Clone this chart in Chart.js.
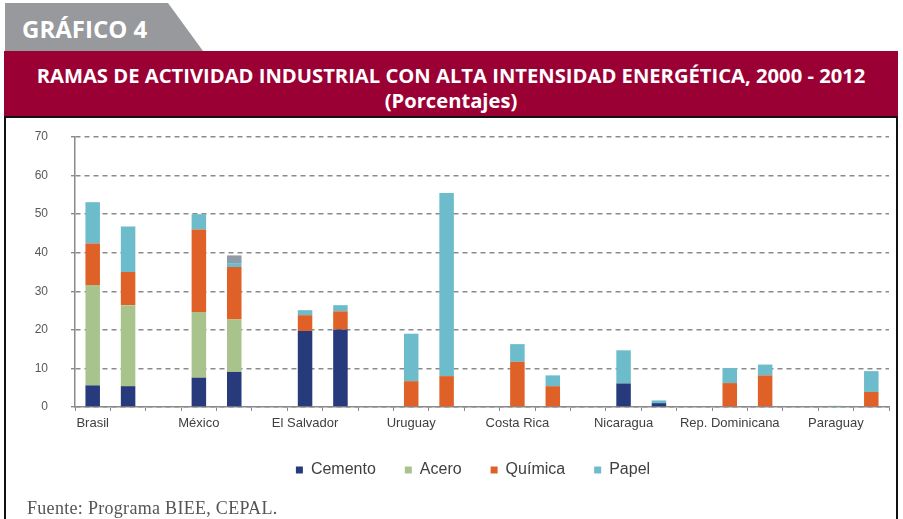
<!DOCTYPE html>
<html>
<head>
<meta charset="utf-8">
<script src="https://cdn.jsdelivr.net/npm/chart.js@4/dist/chart.umd.min.js"></script>
<style>
  html, body { margin: 0; padding: 0; background: #fff; }
  body { width: 903px; height: 519px; position: relative; overflow: hidden; }
  #tab {
    position: absolute; left: 5px; top: 3px; width: 200px; height: 48px;
    background: #97999c;
    clip-path: polygon(0 0, 163px 0, 198px 100%, 0 100%);
  }
  #tab span {
    position: absolute; left: 17px; top: 9px;
    font: 700 24px "Open Sans", sans-serif; color: #fff;
  }
  #band {
    position: absolute; left: 4px; top: 51px; width: 894px; height: 66px;
    background: #9b0034; color: #fff; text-align: center;
    font: 700 20.2px "Open Sans", sans-serif; line-height: 25px;
  }
  #band div:first-child { padding-top: 12px; }
  #frame {
    position: absolute; left: 4px; top: 116px; width: 890px; height: 410px;
    border: 2px solid #111;
  }
  #wrap { position: absolute; left: 6px; top: 119px; width: 889px; height: 400px; }
  #src {
    position: absolute; left: 27px; top: 498px;
    font: 18px "Liberation Serif", "Times New Roman", serif; color: #555;
    letter-spacing: 0.3px;
  }
</style>
</head>
<body>
<div id="tab"><span>GRÁFICO 4</span></div>
<div id="band">
  <div>RAMAS DE ACTIVIDAD INDUSTRIAL CON ALTA INTENSIDAD ENERGÉTICA, 2000 - 2012</div>
  <div>(Porcentajes)</div>
</div>
<div id="frame"></div>
<div id="wrap"><canvas id="chart"></canvas></div>
<div id="src">Fuente: Programa BIEE, CEPAL.</div>
<script>
// two bars per country: 2000 and 2012
const countries = ['Brasil', 'México', 'El Salvador', 'Uruguay', 'Costa Rica', 'Nicaragua', 'Rep. Dominicana', 'Paraguay'];
const cemento = [5.6, 5.4, 7.6, 9.1, 19.7, 20.1, 0, 0, 0, 0, 6.1, 1.0, 0, 0, 0, 0];
const acero   = [26.0, 21.0, 17.0, 13.6, 0, 0, 0, 0, 0, 0, 0, 0, 0, 0, 0, 0];
const quimica = [10.8, 8.6, 21.4, 13.6, 4.1, 4.7, 6.7, 8.0, 11.7, 5.4, 0, 0, 6.2, 8.2, 0, 3.9];
const papel   = [10.7, 11.8, 4.0, 1.0, 1.3, 1.6, 12.3, 47.5, 4.6, 2.8, 8.6, 0.7, 3.9, 2.8, 0.3, 5.4];
const otros   = [0, 0, 0, 2.0, 0, 0, 0, 0, 0, 0, 0, 0, 0, 0, 0, 0];
const yMax = 70;
const yStep = 10;

// slots: bar 2000, bar 2012, empty gap (no gap after the last country)
const labels = [];
countries.forEach((c, i) => {
    labels.push(c, '');
    if (i < countries.length - 1) labels.push('');
});

function toSlots(values) {
    const out = [];
    countries.forEach((c, i) => {
        out.push(values[2 * i] || null, values[2 * i + 1] || null);
        if (i < countries.length - 1) out.push(null);
    });
    return out;
}

function makeSet(label, values, color) {
    return {
        label: label,
        data: toSlots(values),
        backgroundColor: color,
        borderWidth: 0,
        categoryPercentage: 1,
        barPercentage: 0.41
    };
}

const fontFamily = '"Liberation Sans", Arial, sans-serif';

// legend sits a little left of the plot centre in the original
const legendShift = {
    id: 'legendShift',
    afterLayout(chart) {
        chart.legend.left -= 9;
        chart.legend.right -= 9;
    }
};

new Chart(document.getElementById('chart'), {
    type: 'bar',
    data: {
        labels: labels,
        datasets: [
            makeSet('Cemento', cemento, '#263a7c'),
            makeSet('Acero', acero, '#a8c48c'),
            makeSet('Química', quimica, '#df6128'),
            makeSet('Papel', papel, '#6cbccc'),
            makeSet('Otros', otros, '#8f9ca8')
        ]
    },
    plugins: [legendShift],
    options: {
        responsive: true,
        maintainAspectRatio: false,
        animation: false,
        layout: { padding: { left: 24, right: 6, top: 18, bottom: 31 } },
        plugins: {
            tooltip: { enabled: false },
            legend: {
                position: 'bottom',
                fullSize: false,
                labels: {
                    filter: item => item.text !== 'Otros',
                    boxWidth: 7,
                    boxHeight: 7,
                    padding: 29,
                    color: '#404040',
                    font: { family: fontFamily, size: 16 }
                }
            }
        },
        scales: {
            x: {
                stacked: true,
                afterFit: scale => { scale.height = 26; },
                grid: { drawOnChartArea: false, tickLength: 4, color: '#8a8a8a' },
                border: { color: '#8a8a8a', width: 1.5 },
                ticks: {
                    autoSkip: false, maxRotation: 0, padding: 5,
                    color: '#404040', font: { family: fontFamily, size: 13 }
                }
            },
            y: {
                stacked: true,
                min: 0,
                max: yMax,
                afterFit: scale => {
                    scale.width = 45;
                    scale.paddingTop = 7;
                    scale.paddingBottom = 7;
                },
                grid: {
                    color: '#8a8a8a', lineWidth: 1.4, tickLength: 4,
                    tickColor: '#8a8a8a', tickBorderDash: []
                },
                border: { color: '#8a8a8a', width: 1.5, dash: [5, 4] },
                ticks: {
                    stepSize: yStep, padding: 23,
                    color: '#595959', font: { family: fontFamily, size: 12 }
                }
            }
        }
    }
});
</script>
</body>
</html>
